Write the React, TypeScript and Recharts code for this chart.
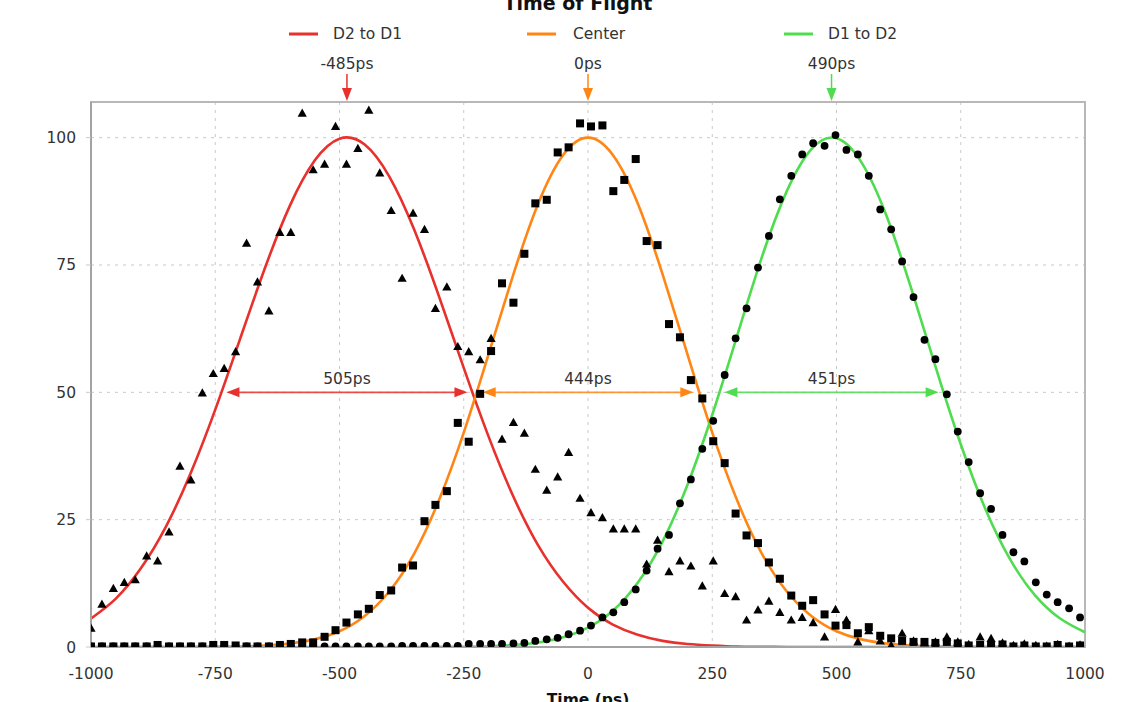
import React from 'react';
import {
  ComposedChart,
  Line,
  Scatter,
  XAxis,
  YAxis,
  CartesianGrid,
  ReferenceLine,
  ReferenceArea,
} from 'recharts';

// ---- measured histogram bins (ps) ----
const timeBins = [
  -1000, -978, -955, -933, -911, -888, -866, -843, -821, -799,
  -776, -754, -732, -709, -687, -665, -642, -620, -598, -575,
  -553, -530, -508, -486, -463, -441, -419, -396, -374, -352,
  -329, -307, -284, -262, -240, -217, -195, -173, -150, -128,
  -106, -83, -61, -39, -16, 6, 29, 51, 73, 96,
  118, 140, 163, 185, 207, 230, 252, 275, 297, 319,
  342, 364, 386, 409, 431, 453, 476, 498, 520, 543,
  565, 588, 610, 632, 655, 677, 699, 722, 744, 766,
  789, 811, 834, 856, 878, 901, 923, 945, 968, 990,
];

// D2 to D1 data (triangles)
const d2d1Counts = [
  3.7, 8.4, 11.5, 12.7, 13.2, 17.9, 16.9, 22.6, 35.5, 32.8,
  49.9, 53.7, 54.7, 58.0, 79.3, 71.7, 66.0, 81.4, 81.4, 104.8,
  93.7, 94.8, 102.2, 94.8, 97.9, 105.4, 93.1, 85.7, 72.4, 85.2,
  82.0, 66.5, 70.7, 59.0, 58.0, 56.4, 60.6, 40.8, 44.1, 42.0,
  34.9, 30.8, 33.4, 38.2, 29.2, 26.4, 25.4, 23.2, 23.2, 23.2,
  16.3, 21.0, 14.8, 16.9, 15.9, 12.0, 16.9, 10.5, 9.9, 5.3,
  7.3, 9.0, 6.8, 5.3, 5.8, 4.8, 2.0, 7.4, 5.3, 1.0,
  3.2, 1.2, 0.3, 2.7, 1.2, 0.8, 1.0, 2.0, 1.0, 0.5,
  2.0, 1.7, 0.8, 0.3, 0.6, 0.3, 0.2, 0.5, 0.2, 0.4,
];

// Center data (squares)
const centerCounts = [
  0.1, 0.1, 0.1, 0.1, 0.1, 0.1, 0.4, 0.1, 0.1, 0.1,
  0.1, 0.4, 0.4, 0.3, 0.1, 0.1, 0.1, 0.4, 0.6, 0.9,
  0.9, 2.0, 3.3, 4.8, 6.4, 7.5, 10.2, 11.1, 15.6, 16.0,
  24.7, 27.9, 30.6, 44.0, 40.3, 49.7, 58.1, 71.4, 67.6, 77.2,
  87.1, 87.8, 97.1, 98.1, 102.8, 102.2, 102.4, 89.5, 91.7, 95.8,
  79.7, 78.9, 63.4, 60.8, 52.4, 48.8, 40.4, 36.1, 26.2, 21.9,
  20.4, 16.6, 13.4, 10.1, 8.1, 9.2, 6.4, 4.2, 4.3, 2.7,
  3.9, 2.2, 1.7, 1.2, 1.0, 1.0, 0.8, 1.0, 0.7, 0.3,
  0.4, 0.4, 0.5, 0.1, 0.3, 0.1, 0.1, 0.4, 0.1, 0.3,
];

// D1 to D2 data (circles)
const d1d2Counts = [
  0.1, 0.1, 0.1, 0.1, 0.1, 0.1, 0.1, 0.1, 0.1, 0.1,
  0.1, 0.1, 0.1, 0.1, 0.1, 0.1, 0.1, 0.1, 0.1, 0.1,
  0.1, 0.1, 0.1, 0.1, 0.1, 0.1, 0.1, 0.1, 0.2, 0.2,
  0.2, 0.2, 0.2, 0.2, 0.6, 0.6, 0.6, 0.6, 0.7, 0.8,
  1.2, 1.5, 1.8, 2.5, 3.2, 4.2, 5.8, 6.8, 8.8, 11.3,
  15.0, 19.3, 22.0, 28.2, 32.9, 38.9, 44.4, 53.4, 60.6, 66.5,
  74.5, 80.7, 87.9, 92.5, 96.7, 98.9, 98.4, 100.5, 97.6, 96.7,
  92.5, 85.9, 82.0, 75.7, 68.7, 60.3, 56.5, 49.6, 42.3, 36.3,
  30.2, 27.1, 22.0, 18.6, 16.8, 12.7, 10.3, 8.8, 7.6, 5.8,
];

// ---- fitted curves, read at 50 ps steps ----
const fitTimes = [
  -1000, -950, -900, -850, -800, -750, -700, -650, -600, -550,
  -500, -450, -400, -350, -300, -250, -200, -150, -100, -50,
  0, 50, 100, 150, 200, 250, 300, 350, 400, 450,
  500, 550, 600, 650, 700, 750, 800, 850, 900, 950, 1000,
];
const d2d1Fit = [
  5.6, 9.5, 15.4, 23.5, 34.0, 46.6, 60.5, 74.4, 86.6, 95.5,
  99.8, 98.7, 92.4, 82.0, 68.9, 54.8, 41.3, 29.5, 19.9, 12.8,
  7.7, 4.4, 2.4, 1.2, 0.6, 0.3, 0.1, 0.05, 0, 0,
  0, 0, 0, 0, 0, 0, 0, 0, 0, 0, 0,
];
const centerFit = [
  0, 0, 0, 0, 0.01, 0.04, 0.11, 0.29, 0.68, 1.5,
  3.1, 6.05, 10.9, 18.3, 28.8, 42.1, 57.5, 73.2, 87.1, 96.6,
  100, 96.6, 87.1, 73.2, 57.5, 42.1, 28.8, 18.3, 10.9, 6.05,
  3.1, 1.5, 0.68, 0.29, 0.11, 0.04, 0.01, 0, 0, 0, 0,
];
const d1d2Fit = [
  0, 0, 0, 0, 0, 0, 0, 0, 0, 0,
  0, 0, 0, 0, 0.02, 0.06, 0.15, 0.38, 0.87, 1.9,
  3.8, 7.1, 12.6, 20.7, 31.8, 45.6, 61.1, 76.6, 89.5, 97.8,
  99.9, 95.2, 84.8, 70.5, 54.8, 39.8, 27.0, 17.1, 10.1, 5.6, 2.9,
];

// ---- annotations ----
const seriesNames = ['D2 to D1', 'Center', 'D1 to D2'];
const seriesColors = ['#e8302c', '#ff8614', '#4fdc4f'];
const peakTimes = [-485, 0, 490];
const fwhmWidths = [505, 444, 451];

const xTicks = [-1000, -750, -500, -250, 0, 250, 500, 750, 1000];
const yTicks = [0, 25, 50, 75, 100];

const FONT = '"DejaVu Sans", Verdana, sans-serif';

const toRows = (xs: number[], ys: number[]) => xs.map((t, i) => ({ t, v: ys[i] }));

const triangleShape = (p: any) => {
  const { cx, cy } = p;
  if (cx == null || cy == null) return <g />;
  return (
    <polygon
      points={`${cx},${cy - 4.6} ${cx - 4.6},${cy + 3.6} ${cx + 4.6},${cy + 3.6}`}
      fill="#000"
    />
  );
};
const squareShape = (p: any) => {
  const { cx, cy } = p;
  if (cx == null || cy == null) return <g />;
  return <rect x={cx - 4} y={cy - 4} width={8} height={8} fill="#000" />;
};
const circleShape = (p: any) => {
  const { cx, cy } = p;
  if (cx == null || cy == null) return <g />;
  return <circle cx={cx} cy={cy} r={3.9} fill="#000" />;
};

const peakShape = (color: string, label: string) => (p: any) => {
  const x = p.x1;
  const top = Math.min(p.y1, p.y2);
  return (
    <g>
      <text
        x={x}
        y={top - 33}
        textAnchor="middle"
        fontSize={15.5}
        fontFamily={FONT}
        fill="#333"
      >
        {label}
      </text>
      <line x1={x} y1={top - 28} x2={x} y2={top - 13} stroke={color} strokeWidth={1.5} />
      <polygon
        points={`${x - 5},${top - 14} ${x + 5},${top - 14} ${x},${top - 1}`}
        fill={color}
      />
    </g>
  );
};

const fwhmShape = (color: string, label: string) => (p: any) => {
  const xa = Math.min(p.x1, p.x2) + 5;
  const xb = Math.max(p.x1, p.x2) - 5;
  const y = p.y1;
  const ah = 13;
  const aw = 5;
  return (
    <g>
      <line x1={xa + ah - 1} y1={y} x2={xb - ah + 1} y2={y} stroke={color} strokeWidth={1.6} opacity={0.85} />
      <polygon points={`${xa},${y} ${xa + ah},${y - aw} ${xa + ah},${y + aw}`} fill={color} />
      <polygon points={`${xb},${y} ${xb - ah},${y - aw} ${xb - ah},${y + aw}`} fill={color} />
      <text
        x={(xa + xb) / 2}
        y={y - 8}
        textAnchor="middle"
        fontSize={15.5}
        fontFamily={FONT}
        fill="#333"
      >
        {label}
      </text>
    </g>
  );
};

const legendPos = [
  { line: 289, text: 333 },
  { line: 527, text: 573 },
  { line: 784, text: 828 },
];

export default function App() {
  const fits = [d2d1Fit, centerFit, d1d2Fit];
  return (
    <div
      style={{
        position: 'absolute',
        left: 0,
        top: 0,
        width: 1137,
        height: 702,
        background: '#fff',
        fontFamily: FONT,
        overflow: 'hidden',
      }}
    >
      <ComposedChart
        width={1137}
        height={702}
        margin={{ top: 102, right: 52, bottom: 0, left: 0 }}
      >
        <CartesianGrid
          stroke="#c9c9c9"
          strokeDasharray="3 5"
          verticalValues={xTicks}
          horizontalValues={yTicks}
        />
        <XAxis
          type="number"
          dataKey="t"
          domain={[-1000, 1000]}
          ticks={xTicks}
          allowDataOverflow
          height={55}
          axisLine={{ stroke: '#a3a3a3', strokeWidth: 2 }}
          tickLine={false}
          tickSize={6}
          tickMargin={15}
          tick={{ fontSize: 15.5, fill: '#333', fontFamily: FONT }}
        />
        <YAxis
          type="number"
          dataKey="v"
          domain={[0, 107]}
          ticks={yTicks}
          allowDataOverflow
          width={91}
          axisLine={{ stroke: '#a3a3a3', strokeWidth: 2 }}
          tickLine={{ stroke: '#c9c9c9' }}
          tickSize={5}
          tickMargin={10}
          tick={{ fontSize: 15.5, fill: '#333', fontFamily: FONT }}
        />
        <ReferenceArea
          x1={-1000}
          x2={1000}
          y1={0}
          y2={107}
          fill="none"
          fillOpacity={0}
          stroke="#b8b8b8"
          strokeWidth={2}
          ifOverflow="visible"
        />
        {fits.map((f, i) => (
          <Line
            key={seriesNames[i]}
            data={toRows(fitTimes, f)}
            dataKey="v"
            type="natural"
            stroke={seriesColors[i]}
            strokeWidth={2.6}
            dot={false}
            activeDot={false}
            isAnimationActive={false}
          />
        ))}
        <Scatter
          data={toRows(timeBins, d2d1Counts)}
          dataKey="v"
          shape={triangleShape}
          isAnimationActive={false}
        />
        <Scatter
          data={toRows(timeBins, centerCounts)}
          dataKey="v"
          shape={squareShape}
          isAnimationActive={false}
        />
        <Scatter
          data={toRows(timeBins, d1d2Counts)}
          dataKey="v"
          shape={circleShape}
          isAnimationActive={false}
        />
        {peakTimes.map((pt, i) => (
          <ReferenceLine
            key={'peak' + i}
            x={pt}
            ifOverflow="visible"
            shape={peakShape(seriesColors[i], `${pt}ps`)}
          />
        ))}
        {peakTimes.map((pt, i) => (
          <ReferenceLine
            key={'fwhm' + i}
            segment={[
              { x: pt - fwhmWidths[i] / 2, y: 50 },
              { x: pt + fwhmWidths[i] / 2, y: 50 },
            ]}
            ifOverflow="visible"
            shape={fwhmShape(seriesColors[i], `${fwhmWidths[i]}ps`)}
          />
        ))}
      </ComposedChart>
      <svg
        width={1137}
        height={702}
        style={{ position: 'absolute', left: 0, top: 0, pointerEvents: 'none' }}
      >
        <text
          x={578}
          y={10}
          textAnchor="middle"
          fontSize={19}
          fontWeight="bold"
          fontFamily={FONT}
          fill="#111"
        >
          Time of Flight
        </text>
        {seriesNames.map((n, i) => (
          <g key={n}>
            <line
              x1={legendPos[i].line}
              x2={legendPos[i].line + 29}
              y1={34}
              y2={34}
              stroke={seriesColors[i]}
              strokeWidth={3}
            />
            <text
              x={legendPos[i].text}
              y={39}
              fontSize={15.5}
              fontFamily={FONT}
              fill="#333"
            >
              {n}
            </text>
          </g>
        ))}
        <text
          x={588}
          y={705}
          textAnchor="middle"
          fontSize={15.5}
          fontWeight="bold"
          fontFamily={FONT}
          fill="#111"
        >
          Time (ps)
        </text>
      </svg>
    </div>
  );
}
